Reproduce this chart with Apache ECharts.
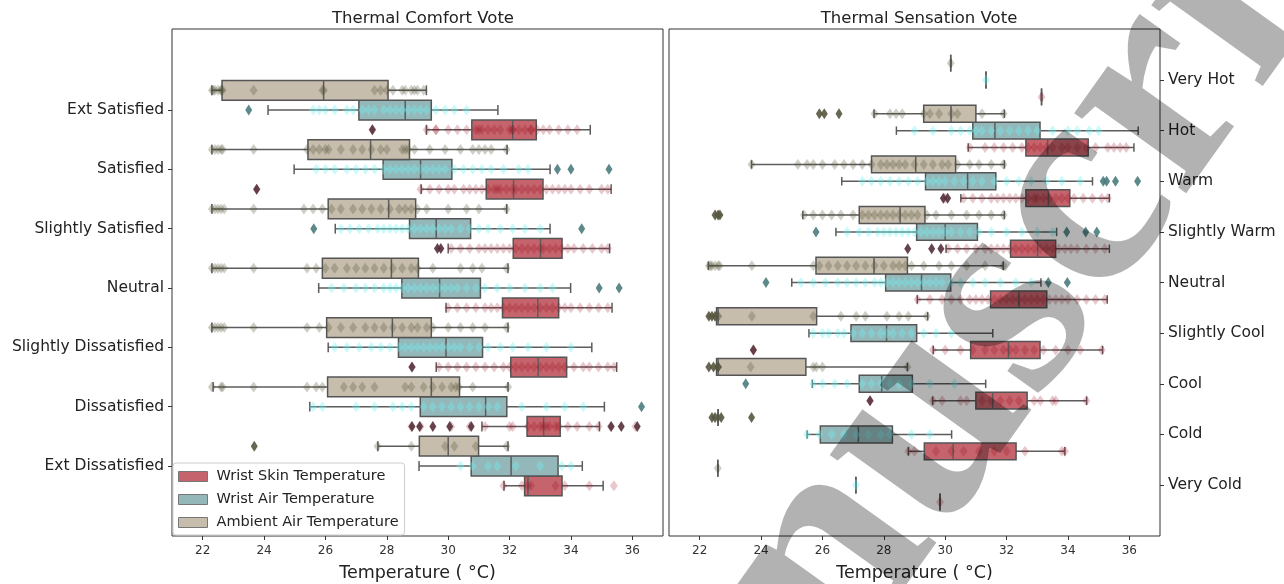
<!DOCTYPE html>
<html><head><meta charset="utf-8">
<script src="https://cdn.jsdelivr.net/npm/echarts@6/dist/echarts.min.js"></script>
<style>html,body{margin:0;padding:0;background:#fff}#c{width:1284px;height:584px}</style>
</head><body><div id="c"></div>
<script>
// ---------- categories & ticks ----------
const comfortCats = ['Ext Satisfied','Satisfied','Slightly Satisfied','Neutral','Slightly Dissatisfied','Dissatisfied','Ext Dissatisfied'];
const sensationCats = ['Very Hot','Hot','Warm','Slightly Warm','Neutral','Slightly Cool','Cool','Cold','Very Cold'];
const xTicks = [22,24,26,28,30,32,34,36];
const seriesNames = ['Wrist Skin Temperature','Wrist Air Temperature','Ambient Air Temperature'];

// ---------- Thermal Comfort Vote: box stats [whiskerLow, q1, median, q3, whiskerHigh] ----------
const comfortSkinBox = [
 [29.29,30.77,32.10,32.87,34.63],[29.12,31.24,32.13,33.09,35.31],[30.0,32.12,33.01,33.71,35.26],
 [29.93,31.77,32.92,33.6,35.34],[29.61,32.04,32.93,33.86,35.49],[31.1,32.57,33.11,33.65,34.93],
 [31.82,32.49,32.6,33.71,35.05]];
const comfortWristAirBox = [
 [24.13,27.09,28.60,29.45,31.62],[24.98,27.88,29.10,30.12,33.32],[26.32,28.74,29.61,30.73,33.32],
 [25.78,28.49,29.72,31.05,33.99],[26.09,28.38,29.93,31.12,34.68],[25.49,29.09,31.22,31.91,35.09],
 [29.05,30.75,32.05,33.58,34.37]];
const comfortAmbientBox = [
 [22.3,22.63,25.94,28.04,29.29],[22.3,25.43,27.47,28.74,31.92],[22.3,26.09,28.06,28.94,31.91],
 [22.3,25.9,28.15,29.03,31.95],[22.3,26.04,28.18,29.45,31.95],[22.34,26.07,29.45,30.37,31.95],
 [27.71,29.06,30.0,30.99,31.95]];
// outliers per category
const comfortSkinOut = [[27.53],[23.76],[29.65,29.76],[],[28.82],[28.82,29.07,29.5,30.05,30.75,35.31,35.64,36.16],[]];
const comfortWristAirOut = [[23.5],[33.56,34.0,35.24],[25.62,34.35],[34.92,35.57],[],[36.3],[]];
const comfortAmbientOut = [[],[],[],[],[],[],[23.68]];
// individual observations per category
const comfortSkinPts = [
 [29.3,29.6,29.6,30.0,30.3,30.6,30.9,31.0,31.1,31.3,31.5,31.7,32.0,32.1,32.1,32.3,32.5,32.7,32.7,32.9,33.1,33.3,33.6,33.9,34.2,27.53],
 [23.76,29.1,29.4,29.7,30.0,30.2,30.5,30.7,30.9,31.1,31.3,31.5,31.6,31.7,31.9,32.1,32.2,32.4,32.6,32.8,33.0,33.2,33.4,33.6,33.8,34.0,34.3,34.6,35.0,35.2],
 [30.1,30.4,30.7,31.0,31.2,31.4,31.6,31.8,32.0,32.2,32.4,32.6,32.8,33.0,33.1,33.3,33.5,33.7,33.9,34.1,34.4,34.7,35.0,35.2],
 [30.0,30.3,30.6,30.9,31.2,31.4,31.6,31.8,32.0,32.2,32.4,32.6,32.8,33.0,33.2,33.4,33.6,33.8,34.0,34.3,34.6,34.9,35.2],
 [28.82,29.7,30.0,30.3,30.6,30.9,31.2,31.5,31.8,32.0,32.2,32.4,32.6,32.8,33.0,33.2,33.4,33.6,33.8,34.1,34.4,34.6,34.9,35.2,35.4],
 [28.8,29.1,30.1,30.7,31.2,32.0,32.1,32.6,32.8,33.0,33.1,33.2,33.3,33.5,33.6,33.9,34.2,34.6,34.9,35.3,36.1],
 [31.8,32.4,32.6,32.7,33.5,33.8,34.6,35.4]];
const comfortWristAirPts = [
 [25.6,25.8,26.0,26.3,26.7,26.9,27.2,27.4,27.6,27.9,28.1,28.3,28.5,28.7,28.9,29.1,29.3,29.6,29.9,30.2,30.6],
 [25.7,26.0,26.3,26.7,27.0,27.3,27.6,27.9,28.1,28.3,28.5,28.7,28.9,29.1,29.3,29.5,29.7,29.9,30.2,30.5,30.8,31.1,31.4,31.8,32.3,32.6],
 [26.5,26.8,27.1,27.4,27.7,27.9,28.1,28.3,28.5,28.7,28.9,29.1,29.3,29.5,29.7,29.9,30.1,30.4,30.7,31.0,31.3,31.7,32.1,32.5,33.0],
 [26.2,26.6,27.0,27.3,27.6,27.9,28.1,28.3,28.5,28.7,28.9,29.1,29.3,29.5,29.7,29.9,30.1,30.3,30.6,30.9,31.2,31.6,32.0,32.5,33.0,33.4],
 [26.3,26.7,27.1,27.5,27.8,28.1,28.4,28.6,28.8,29.0,29.2,29.4,29.6,29.8,30.0,30.2,30.4,30.7,31.0,31.3,31.7,32.1,32.6,33.2,34.0],
 [25.6,25.9,27.0,27.6,28.2,28.5,28.8,29.2,29.5,29.8,30.1,30.4,30.7,31.0,31.3,31.6,32.4,33.2,33.8,34.4],
 [30.4,30.8,31.3,31.6,32.2,33.0,33.7,34.0]];
const comfortAmbientPts = [
 [22.3,22.35,22.4,22.5,22.6,22.6,22.65,23.66,25.9,25.95,27.6,27.8,28.0,28.2,28.5,28.6,28.8,28.9,29.0,29.2],
 [22.3,22.4,22.5,22.6,22.65,23.66,25.4,25.6,25.8,26.0,26.1,26.5,26.9,27.2,27.5,27.8,28.0,28.5,28.6,28.7,28.9,29.4,29.9,30.4,30.8,31.0,31.2,31.4,31.9],
 [22.3,22.4,22.5,22.6,22.7,23.66,25.3,25.6,25.9,26.2,26.5,26.9,27.2,27.5,27.8,28.1,28.4,28.6,28.8,29.0,29.3,30.0,30.6,31.0,31.9],
 [22.3,22.4,22.5,22.6,22.7,23.66,25.4,25.7,26.0,26.3,26.7,27.0,27.3,27.6,27.9,28.2,28.5,28.8,29.0,29.5,30.4,30.8,31.1,31.9],
 [22.3,22.4,22.5,22.6,22.7,23.66,25.4,25.8,26.1,26.5,26.9,27.3,27.6,27.9,28.2,28.5,28.8,29.0,29.3,29.5,30.0,30.4,30.8,31.2,31.9],
 [22.3,22.6,22.65,23.66,25.4,25.7,25.9,26.6,26.9,27.2,27.6,28.6,28.8,29.2,29.5,29.8,30.1,30.25,30.35,30.8,31.95],
 [27.7,28.8,29.9,30.2,30.9,31.9]];

// ---------- Thermal Sensation Vote ----------
const sensSkinBox = [
 [33.14,33.14,33.14,33.14,33.14],[30.75,32.63,33.34,34.66,36.15],[30.51,32.63,33.36,34.06,35.35],
 [30.03,32.13,33.01,33.6,35.35],[29.09,31.48,32.4,33.31,35.28],[29.61,30.83,32.06,33.09,35.13],
 [29.59,31.0,31.55,32.67,34.61],[28.8,29.32,30.26,32.31,33.9],[29.83,29.83,29.83,29.83,29.83]];
const sensWristAirBox = [
 [31.33,31.33,31.33,31.33,31.33],[28.41,30.9,31.62,33.09,36.29],[26.63,29.36,30.73,31.65,34.8],
 [26.44,29.07,30.0,31.05,33.63],[25.0,28.06,29.23,30.18,33.12],[25.56,26.93,28.09,29.07,31.55],
 [25.67,27.2,27.93,28.93,31.32],[25.5,25.93,27.17,28.28,30.21],[27.09,27.09,27.09,27.09,27.09]];
const sensAmbientBox = [
 [30.18,30.18,30.18,30.18,30.18],[27.68,29.3,30.19,31.0,31.93],[23.69,27.6,29.04,30.34,31.93],
 [25.36,27.2,28.53,29.34,31.93],[22.28,25.79,27.68,28.77,31.89],[22.55,22.55,22.6,25.81,29.43],
 [22.55,22.55,22.6,25.46,28.77],[22.6,22.6,22.6,22.6,22.6],[22.59,22.59,22.59,22.59,22.59]];
const sensSkinOut = [[],[],[29.94,30.08],[28.78,29.56,29.86],[],[23.75],[27.55],[],[]];
const sensWristAirOut = [[],[],[35.15,35.26,35.55,36.27],[25.79,33.96,34.58,34.94],[24.16,33.36,33.98],[],[23.5],[],[]];
const sensAmbientOut = [[],[25.9,26.06,26.54],[],[22.5,22.6,22.66],[],[22.3,22.4,22.5],[22.3,22.45,22.6],[22.4,22.5,22.7,23.69],[]];
const sensSkinPts = [
 [33.14],
 [30.8,31.3,31.6,31.9,32.2,32.5,32.7,32.9,33.1,33.3,33.5,33.8,34.0,34.3,34.6,34.9,35.3,35.5,35.7,35.9],
 [30.0,30.6,30.9,31.2,31.5,31.7,31.9,32.1,32.3,32.5,32.7,32.9,33.0,33.2,33.4,33.6,33.8,34.0,34.2,34.5,34.8,35.1,35.3],
 [30.1,30.4,30.7,31.0,31.3,31.5,31.7,31.9,32.1,32.3,32.5,32.7,32.9,33.1,33.3,33.5,33.7,33.9,34.1,34.3,34.6,34.9,35.2],
 [29.1,29.5,29.9,30.2,30.5,30.8,31.0,31.2,31.4,31.6,31.8,32.0,32.2,32.4,32.6,32.8,33.0,33.2,33.4,33.6,33.8,34.0,34.3,34.6,34.9,35.2],
 [23.75,29.6,30.0,30.5,30.9,31.3,31.6,31.9,32.1,32.3,32.6,32.9,33.2,33.6,34.0,34.4,35.1],
 [27.55,29.6,29.9,30.5,30.7,31.2,31.5,31.8,32.1,32.4,32.9,33.1,33.5,33.6,34.6],
 [28.8,29.0,29.7,30.2,30.6,31.1,31.6,32.0,32.6,33.8,33.9],
 [29.83]];
const sensWristAirPts = [
 [31.33],
 [29.0,29.6,30.2,30.5,30.8,31.0,31.2,31.5,31.8,32.1,32.4,32.7,33.0,33.5,34.0,34.3,34.7,35.0],
 [27.3,27.6,27.9,28.2,28.5,28.8,29.1,29.4,29.6,29.8,30.0,30.3,30.6,30.9,31.2,31.6,32.0,32.4,32.8,33.3,33.8,34.4],
 [26.8,27.2,27.5,27.8,28.0,28.2,28.4,28.6,28.8,29.0,29.2,29.4,29.6,29.8,30.0,30.2,30.5,30.8,31.1,31.5,32.0,32.5,33.0,33.5],
 [25.3,25.7,26.1,26.5,26.8,27.1,27.4,27.7,27.9,28.1,28.3,28.5,28.7,28.9,29.1,29.3,29.5,29.7,29.9,30.2,30.5,30.9,31.3,31.8,32.3,32.8],
 [25.7,26.0,26.2,26.5,26.7,27.0,27.3,27.6,27.9,28.1,28.3,28.6,28.9,29.3,29.7,30.2],
 [25.7,26.0,26.4,26.8,27.3,27.6,27.9,28.2,28.5,28.9,29.5,30.3],
 [25.5,25.9,26.3,26.7,27.1,27.5,27.9,28.2,28.9,29.5],
 [27.09]];
const sensAmbientPts = [
 [30.18],
 [27.7,28.2,28.4,28.6,29.3,29.5,29.8,30.2,30.4,31.2,31.9],
 [23.69,25.2,25.5,25.7,26.0,26.4,26.7,27.0,27.3,27.6,27.9,28.1,28.3,28.5,28.7,29.0,29.3,29.6,29.9,30.1,30.4,30.8,31.1,31.5,31.9],
 [25.4,25.7,26.0,26.3,26.6,27.0,27.3,27.5,27.7,27.9,28.1,28.3,28.5,28.7,28.9,29.1,29.4,29.7,30.2,30.7,31.1,31.5,31.9],
 [22.3,22.35,22.4,22.5,22.6,22.65,23.7,25.7,25.9,26.2,26.5,26.8,27.1,27.4,27.7,28.0,28.3,28.5,28.7,28.9,29.3,29.8,30.2,30.7,31.3,31.9],
 [22.6,22.6,23.7,25.7,26.6,27.1,27.4,28.1,28.5,28.8,29.4],
 [22.6,22.6,23.66,25.7,25.8,26.0,28.77],
 [22.6],
 [22.59]];

// ---------- styling ----------
const boxFill = ['#c5646c','#94b8ba','#c7bdac'];
const ptColor = ['rgba(150,10,25,0.28)','rgba(110,240,245,0.45)','rgba(80,78,50,0.35)'];
const outColor = ['#55303a','#4a7c7d','#57553f'];
const hueOffset = [1/3, 0, -1/3];
const boxH = 1/3;

function boxRender(off, fill) {
  return function (params, api) {
    const yv = api.value(0) + off;
    const p = [1,2,3,4,5].map(i => api.coord([api.value(i), yv]));
    const h = api.size([0, boxH])[1];
    const yc = p[0][1];
    const ls = {stroke:'#5c5c5c', lineWidth:1.5};
    return {type:'group', children:[
      {type:'line', shape:{x1:p[0][0],y1:yc,x2:p[1][0],y2:yc}, style:ls},
      {type:'line', shape:{x1:p[3][0],y1:yc,x2:p[4][0],y2:yc}, style:ls},
      {type:'line', shape:{x1:p[0][0],y1:yc-h/4,x2:p[0][0],y2:yc+h/4}, style:ls},
      {type:'line', shape:{x1:p[4][0],y1:yc-h/4,x2:p[4][0],y2:yc+h/4}, style:ls},
      {type:'rect', shape:{x:p[1][0],y:yc-h/2,width:p[3][0]-p[1][0],height:h}, style:{fill:fill, stroke:'#555', lineWidth:1.5}},
      {type:'line', shape:{x1:p[2][0],y1:yc-h/2,x2:p[2][0],y2:yc+h/2}, style:ls}
    ]};
  };
}

function makeSeries(grid, boxes, outs, pts) {
  const res = [];
  for (let s = 0; s < 3; s++) {
    res.push({
      type:'custom', name: seriesNames[s], xAxisIndex:grid, yAxisIndex:grid,
      renderItem: boxRender(hueOffset[s], boxFill[s]),
      itemStyle:{color: boxFill[s]},
      encode:{x:[1,2,3,4,5], y:0},
      data: boxes[s].map((b,i) => [i].concat(b)), z:2, silent:true
    });
  }
  for (let s = 0; s < 3; s++) {
    const d = [];
    pts[s].forEach((arr,i) => arr.forEach(v => d.push([v, i + hueOffset[s]])));
    res.push({type:'scatter', xAxisIndex:grid, yAxisIndex:grid, symbol:'diamond', symbolSize:[8,11],
      itemStyle:{color: ptColor[s]}, data:d, z:3, silent:true});
  }
  for (let s = 0; s < 3; s++) {
    const d = [];
    outs[s].forEach((arr,i) => arr.forEach(v => d.push([v, i + hueOffset[s]])));
    res.push({type:'scatter', xAxisIndex:grid, yAxisIndex:grid, symbol:'diamond', symbolSize:[7,11],
      itemStyle:{color: outColor[s], opacity:0.9}, data:d, z:4, silent:true});
  }
  return res;
}

const series = [].concat(
  makeSeries(0, [comfortSkinBox, comfortWristAirBox, comfortAmbientBox],
                [comfortSkinOut, comfortWristAirOut, comfortAmbientOut],
                [comfortSkinPts, comfortWristAirPts, comfortAmbientPts]),
  makeSeries(1, [sensSkinBox, sensWristAirBox, sensAmbientBox],
                [sensSkinOut, sensWristAirOut, sensAmbientOut],
                [sensSkinPts, sensWristAirPts, sensAmbientPts])
);

const font = 'DejaVu Sans';
function xAxis(g) {
  return {type:'value', gridIndex:g, min:21, max:37,
    name:'Temperature ( \u00b0C)', nameLocation:'middle', nameGap:28,
    nameTextStyle:{fontSize:17.5, color:'#222', fontFamily:font},
    axisLine:{show:false, onZero:false}, splitLine:{show:false},
    axisTick:{show:true, length:4, customValues:xTicks, lineStyle:{color:'#333'}},
    axisLabel:{customValues:xTicks, fontSize:12, color:'#333', fontFamily:font, margin:9}};
}
function yAxis(g, cats, min, max, pos) {
  const vals = cats.map((c,i) => i);
  return {type:'value', gridIndex:g, inverse:true, min:min, max:max, position:pos,
    axisLine:{show:false, onZero:false}, splitLine:{show:false},
    axisTick:{show:true, length:4, customValues:vals, lineStyle:{color:'#333'}},
    axisLabel:{customValues:vals, formatter: v => cats[Math.round(v)], fontSize:15.5, color:'#222', fontFamily:font, margin:8}};
}

const chart = echarts.init(document.getElementById('c'), null, {renderer:'canvas'});
chart.setOption({
  animation:false, backgroundColor:'#fff',
  title:[
    {text:'Thermal Comfort Vote', left:418, top:5, textAlign:'center', textStyle:{fontSize:16.5, fontWeight:'normal', color:'#222', fontFamily:font}},
    {text:'Thermal Sensation Vote', left:914, top:5, textAlign:'center', textStyle:{fontSize:16.5, fontWeight:'normal', color:'#222', fontFamily:font}}
  ],
  grid:[
    {left:172, top:29, width:491, height:507, show:true, borderColor:'#333', borderWidth:1, backgroundColor:'transparent', outerBoundsMode:'none', containLabel:false},
    {left:669, top:29, width:491, height:507, show:true, borderColor:'#333', borderWidth:1, backgroundColor:'transparent', outerBoundsMode:'none', containLabel:false}
  ],
  xAxis:[xAxis(0), xAxis(1)],
  yAxis:[yAxis(0, comfortCats, -1.366, 7.18, 'left'), yAxis(1, sensationCats, -1.008, 9.006, 'right')],
  legend:{
    orient:'vertical', left:173, top:463, itemWidth:29, itemHeight:10, itemGap:6,
    backgroundColor:'rgba(255,255,255,0.9)', borderColor:'#ccc', borderWidth:1, borderRadius:3,
    padding:[5,6,4,5], selectedMode:false,
    textStyle:{fontSize:14.5, color:'#222', fontFamily:font, padding:[0,0,0,4], lineHeight:17},
    data: seriesNames.map((n,i) => ({name:n, icon:'rect', itemStyle:{color:boxFill[i], borderColor:'#777', borderWidth:1}}))
  },
  graphic:[{type:'text', x:649, y:1069, rotation:0.95, z:100, silent:true,
    style:{text:'Manuscript', font:'bold 300px "Liberation Serif"', fill:'rgba(0,0,0,0.3)', verticalAlign:'bottom'}}],
  series: series
});
</script></body></html>
